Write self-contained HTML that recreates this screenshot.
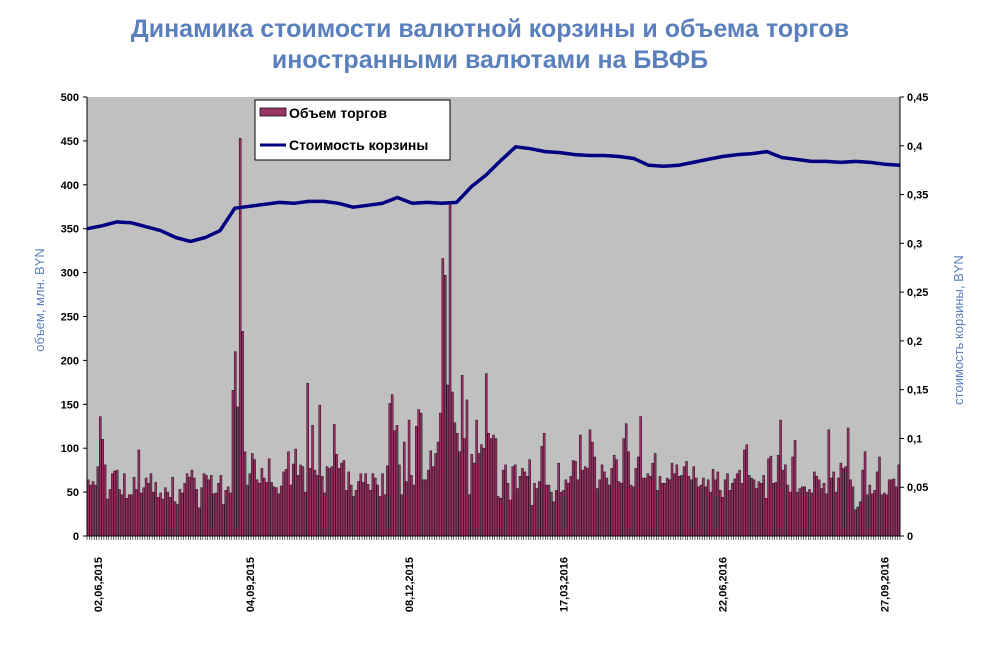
<!DOCTYPE html>
<html><head><meta charset="utf-8"><style>
body{margin:0;background:#fff;width:1005px;height:657px;overflow:hidden;font-family:"Liberation Sans",sans-serif}
</style></head><body>
<svg id="chart" width="1005" height="657" xmlns="http://www.w3.org/2000/svg" font-family="Liberation Sans, sans-serif">
<text x="490" y="37" text-anchor="middle" font-size="25" font-weight="bold" fill="#5a7fbd">Динамика стоимости валютной корзины и объема торгов</text>
<text x="490" y="68" text-anchor="middle" font-size="25" font-weight="bold" fill="#5a7fbd">иностранными валютами на БВФБ</text>
<rect x="87" y="97" width="813" height="439" fill="#c0c0c0"/>
<g id="bars"></g><g id="line"></g><g id="axes"></g>
<text transform="translate(44,300) rotate(-90)" text-anchor="middle" font-size="13" fill="#5a7fbd">объем, млн. BYN</text>
<text transform="translate(963,330) rotate(-90)" text-anchor="middle" font-size="13" fill="#5a7fbd">стоимость корзины, BYN</text>
<g>
<rect x="255" y="100" width="195" height="60" fill="#fff" stroke="#000"/>
<rect x="260" y="108" width="26" height="8" fill="#993366" stroke="#000" stroke-width="0.7"/>
<text x="289" y="118" font-size="14" font-weight="bold">Объем торгов</text>
<line x1="260" y1="145" x2="286" y2="145" stroke="#000080" stroke-width="3"/>
<text x="289" y="150" font-size="14" font-weight="bold">Стоимость корзины</text>
</g>
</svg>
<script>
const volumes=[64,58,62,58,79,136,110,81,42,53,71,74,75,53,47,71,43,47,47,67,53,98,49,55,66,60,71,50,61,44,49,42,55,50,44,67,39,36,53,49,60,71,67,75,66,53,32,55,71,69,64,69,48,49,60,69,36,52,56,49,166,210,147,453,233,96,58,71,94,87,64,60,77,66,61,88,61,56,55,48,57,73,76,96,
58,82,99,69,81,79,50,174,77,126,75,69,149,68,49,79,77,79,127,93,77,83,86,52,73,58,45,52,62,71,61,71,59,52,71,66,58,45,71,47,80,151,161,120,126,81,47,107,62,132,69,58,125,144,140,64,64,75,97,79,94,107,140,316,297,172,379,164,129,117,96,183,111,155,47,93,83,132,94,104,100,185,117,111,
115,111,45,43,75,81,60,41,79,81,54,68,77,73,68,87,35,60,54,62,102,117,58,58,50,39,52,83,50,52,64,60,68,86,85,64,115,75,79,77,121,107,90,54,64,81,73,66,58,77,92,87,62,60,111,128,96,58,56,77,90,136,66,66,71,68,83,94,52,68,60,60,66,64,83,71,81,68,69,79,85,68,64,79,66,56,
58,66,56,64,50,76,64,73,52,44,64,71,52,60,65,71,75,60,98,104,69,66,64,54,62,60,69,43,88,91,60,61,92,132,75,81,58,50,90,109,50,54,56,56,50,53,49,73,68,64,54,60,48,121,66,73,50,66,83,77,79,123,64,56,30,33,39,75,96,47,58,48,52,73,90,47,49,47,64,64,65,56,81];
const basket=[0.315,0.318,0.322,0.321,0.317,0.313,0.306,0.302,0.306,0.313,0.336,0.338,0.340,0.342,0.341,0.343,0.343,0.341,0.337,0.339,0.341,0.347,0.341,0.342,0.341,0.342,0.358,0.370,0.385,0.399,0.397,0.394,0.393,0.391,0.390,0.390,0.389,0.387,0.380,0.379,0.380,0.383,0.386,0.389,0.391,0.392,0.394,0.388,0.386,0.384,0.384,0.383,0.384,0.383,0.381,0.380];
const leftTicks=["0","50","100","150","200","250","300","350","400","450","500"];
const rightTicks=["0","0,05","0,1","0,15","0,2","0,25","0,3","0,35","0,4","0,45"];
const dateLabels=["02,06,2015","04,09,2015","08,12,2015","17,03,2016","22,06,2016","27,09,2016"];
const dateIdx=[4,67,133,197,263,330];
const X0=87,X1=900,Y0=536,Y1=97;
const ns="http://www.w3.org/2000/svg";
const n=volumes.length,bw=(X1-X0)/n;
const xBar=i=>X0+i*bw;
const yL=v=>Y0-(v/500)*(Y0-Y1);
const yR=v=>Y0-(v/0.45)*(Y0-Y1);
function mk(tag,attrs,parent){const e=document.createElementNS(ns,tag);for(const k in attrs)e.setAttribute(k,attrs[k]);parent.appendChild(e);return e;}
const gb=document.getElementById('bars');
volumes.forEach((v,i)=>{const r=mk('rect',{x:xBar(i)+0.2,y:yL(v),width:bw-0.4,height:Y0-yL(v),fill:'#993366',stroke:'#2a0a1a','stroke-width':0.5},gb);

});
const m=basket.length;
const pts=basket.map((v,i)=>(X0+i*(X1-X0)/(m-1)).toFixed(1)+','+yR(v).toFixed(1)).join(' ');
const pl=mk('polyline',{points:pts,fill:'none',stroke:'#000080','stroke-width':3.5,'stroke-linejoin':'round'},document.getElementById('line'));


const ga=document.getElementById('axes');
mk('line',{x1:X0,y1:Y1,x2:X0,y2:Y0,stroke:'#000'},ga);
mk('line',{x1:X1,y1:Y1,x2:X1,y2:Y0,stroke:'#000'},ga);
mk('line',{x1:X0,y1:Y0,x2:X1,y2:Y0,stroke:'#000'},ga);
leftTicks.forEach((t,i)=>{const y=yL(i*50);mk('line',{x1:X0-4,y1:y,x2:X0,y2:y,stroke:'#000'},ga);
const tx=mk('text',{x:X0-8,y:y+4,'text-anchor':'end','font-size':11,'font-weight':'bold'},ga);tx.textContent=t;

});
rightTicks.forEach((t,i)=>{const y=yR(i*0.05);mk('line',{x1:X1,y1:y,x2:X1+4,y2:y,stroke:'#000'},ga);
const tx=mk('text',{x:X1+7,y:y+4,'font-size':11,'font-weight':'bold'},ga);tx.textContent=t;

});
for(let i=0;i<=n;i++){mk('line',{x1:xBar(i),y1:Y0,x2:xBar(i),y2:Y0+4,stroke:'#000','stroke-width':0.6},ga);}
dateLabels.forEach((d,k)=>{const x=xBar(Math.min(dateIdx[k],n-1))+bw/2+4;
const tx=mk('text',{transform:`translate(${x},557) rotate(-90)`,'text-anchor':'end','font-size':11,'font-weight':'bold'},ga);tx.textContent=d;

});
</script>
</body></html>
